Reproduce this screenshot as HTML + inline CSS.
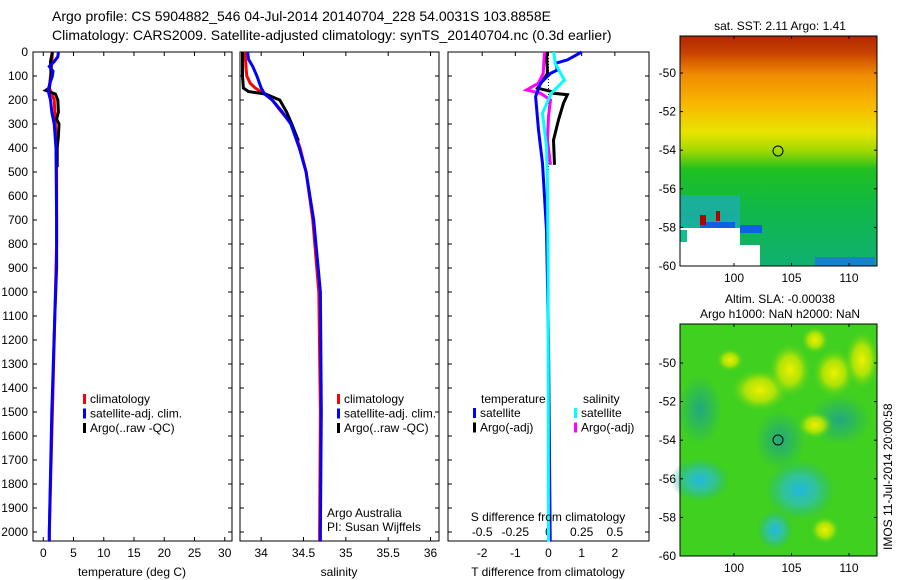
<!DOCTYPE html>
<html><head><meta charset="utf-8"><style>
body{margin:0;background:#fff}
svg{display:block;font-family:"Liberation Sans",sans-serif}
</style></head><body>
<svg id="c" width="900" height="580">
<defs>
<linearGradient id="sstg" x1="0" y1="0" x2="0" y2="1">
<stop offset="0" stop-color="#b02800"/><stop offset="0.07" stop-color="#c84000"/>
<stop offset="0.17" stop-color="#f08c00"/><stop offset="0.3" stop-color="#f8b800"/>
<stop offset="0.42" stop-color="#e8e400"/><stop offset="0.5" stop-color="#a0d800"/>
<stop offset="0.58" stop-color="#20c020"/><stop offset="0.75" stop-color="#10b848"/>
<stop offset="1" stop-color="#10b070"/></linearGradient>
<radialGradient id="yb"><stop offset="0" stop-color="#f0f000"/><stop offset="0.5" stop-color="#c8e800" stop-opacity="0.8"/><stop offset="1" stop-color="#40d020" stop-opacity="0"/></radialGradient>
<radialGradient id="cb"><stop offset="0" stop-color="#20b8e0"/><stop offset="0.5" stop-color="#30c0b0" stop-opacity="0.8"/><stop offset="1" stop-color="#20b880" stop-opacity="0"/></radialGradient>
<radialGradient id="tb"><stop offset="0" stop-color="#20a880"/><stop offset="1" stop-color="#20a880" stop-opacity="0"/></radialGradient>
</defs>
<g font-size="14">
<text x="52" y="21">Argo profile: CS 5904882_546 04-Jul-2014 20140704_228 54.0031S 103.8858E</text>
<text x="52" y="40">Climatology: CARS2009. Satellite-adjusted climatology: synTS_20140704.nc (0.3d earlier)</text>
</g>
<g id="panels"></g>
<!-- SST map -->
<g>
<text x="780" y="30" font-size="12" text-anchor="middle">sat. SST: 2.11  Argo: 1.41</text>
<rect x="680" y="36" width="197" height="230" fill="url(#sstg)"/>
<rect x="680" y="195" width="60" height="45" fill="#20a8d0" opacity="0.6"/>
<rect x="700" y="222" width="35" height="12" fill="#1060e0"/>
<rect x="740" y="225" width="22" height="8" fill="#1060e0"/>
<rect x="815" y="257" width="60" height="9" fill="#1878e0" opacity="0.8"/>
<rect x="680" y="228" width="60" height="38" fill="#fff"/>
<rect x="740" y="245" width="20" height="21" fill="#fff"/>
<rect x="680" y="230" width="7" height="12" fill="#10c090"/>
<rect x="700" y="215" width="6" height="10" fill="#b00000"/>
<rect x="716" y="211" width="4" height="10" fill="#b00000"/>
<rect x="680" y="36" width="197" height="230" fill="none" stroke="#000"/>
<circle cx="778" cy="151" r="5" fill="none" stroke="#000"/>
</g>
<!-- SLA map -->
<g>
<text x="780" y="303" font-size="12" text-anchor="middle">Altim. SLA: -0.00038</text>
<text x="780" y="318" font-size="12" text-anchor="middle">Argo h1000: NaN h2000: NaN</text>
<rect x="680" y="324" width="197" height="232" fill="#40d020"/>
<ellipse cx="700" cy="410" rx="22" ry="35" fill="url(#tb)"/>
<ellipse cx="780" cy="440" rx="25" ry="30" fill="url(#tb)"/>
<ellipse cx="840" cy="420" rx="30" ry="25" fill="url(#tb)"/>
<ellipse cx="760" cy="390" rx="30" ry="22" fill="url(#yb)"/>
<ellipse cx="790" cy="370" rx="22" ry="28" fill="url(#yb)"/>
<ellipse cx="834" cy="373" rx="22" ry="25" fill="url(#yb)"/>
<ellipse cx="815" cy="425" rx="18" ry="14" fill="url(#yb)"/>
<ellipse cx="862" cy="360" rx="18" ry="30" fill="url(#yb)"/>
<ellipse cx="815" cy="340" rx="14" ry="14" fill="url(#yb)"/>
<ellipse cx="730" cy="360" rx="14" ry="12" fill="url(#yb)"/>
<ellipse cx="700" cy="480" rx="30" ry="22" fill="url(#cb)"/>
<ellipse cx="800" cy="490" rx="35" ry="30" fill="url(#cb)"/>
<ellipse cx="775" cy="530" rx="18" ry="20" fill="url(#cb)"/>
<ellipse cx="825" cy="530" rx="15" ry="14" fill="url(#yb)"/>
<rect x="680" y="324" width="197" height="232" fill="none" stroke="#000"/>
<circle cx="778" cy="440" r="5" fill="none" stroke="#000"/>
<text transform="translate(892,550) rotate(-90)" font-size="12">IMOS 11-Jul-2014 20:00:58</text>
</g>
<g id="mapaxes"></g>
</svg>
<script>
const NS='http://www.w3.org/2000/svg';
const svg=document.getElementById('c');
const G=document.getElementById('panels');
function el(t,a,p){const e=document.createElementNS(NS,t);for(const k in a)e.setAttribute(k,a[k]);(p||G).appendChild(e);return e;}
function txt(x,y,s,o,p){const e=el('text',Object.assign({x:x,y:y,'font-size':12},o||{}),p);e.textContent=s;return e;}

// ---- data ----
const depthTicks=[0,100,200,300,400,500,600,700,800,900,1000,1100,1200,1300,1400,1500,1600,1700,1800,1900,2000];
const tempTicks=[0,5,10,15,20,25,30];
const salTicks=[34,34.5,35,35.5,36];
const salTickLabels=['34','34.5','35','35.5','36'];
const dTTicks=[-2,-1,0,1,2];
const dSTicks=[-0.5,-0.25,0,0.25,0.5];
const dSTickLabels=['-0.5','-0.25','0','0.25','0.5'];

const tClimDepth=[0,50,100,150,200,300,400,500,800,1100,1500,2000,2040];
const tClimVal=[1.5,1.4,1.2,1.0,1.8,2.0,2.1,2.2,2.2,1.9,1.5,1.0,1.0];
const tSatDepth=[0,20,40,60,80,100,130,160,200,250,300,400,700,900,1100,1500,2000,2040];
const tSatVal=[2.5,2.4,1.8,1.0,1.6,1.5,1.1,0.8,1.2,1.4,1.8,2.1,2.2,2.2,1.9,1.4,1.0,1.0];
const tArgoDepth=[0,40,100,150,160,175,200,250,280,300,350,400,480];
const tArgoVal=[1.5,1.2,1.3,1.0,0.4,2.0,2.4,2.5,2.2,2.6,2.5,2.3,2.3];

const sClimDepth=[0,60,100,130,150,180,200,250,300,400,500,700,1000,1500,2000,2040];
const sClimVal=[33.81,33.82,33.83,33.87,33.93,34.06,34.13,34.24,34.36,34.46,34.53,34.61,34.68,34.7,34.69,34.69];
const sSatDepth=[0,30,60,100,150,175,200,250,300,400,500,700,1000,1500,2000,2040];
const sSatVal=[33.84,33.85,33.9,33.95,34.0,34.04,34.13,34.25,34.35,34.45,34.53,34.62,34.7,34.71,34.7,34.7];
const sArgoDepth=[0,100,150,165,175,200,250,300,370];
const sArgoVal=[33.78,33.78,33.79,33.85,34.05,34.22,34.3,34.36,34.44];

const dTSatDepth=[0,33,47,75,89,130,186,325,464,603,742,1200,2040];
const dTSatVal=[1.0,0.57,0.21,0.27,0.06,-0.24,-0.39,-0.3,-0.18,-0.12,-0.06,0.0,0.05];
const dTArgoDepth=[0,89,151,165,172,178,214,283,367,470];
const dTArgoVal=[-0.06,-0.03,-0.33,0.1,0.15,0.57,0.45,0.3,0.15,0.18];
const dSSatDepth=[0,47,117,172,255,394,533,900,2040];
const dSSatVal=[0.04,0.05,0.12,0.02,-0.045,-0.015,-0.008,-0.003,0.0];
const dSArgoDepth=[0,89,130,158,172,200,269,367,470];
const dSArgoVal=[-0.03,-0.04,-0.075,-0.165,-0.06,0.015,0.0,-0.008,0.015];

// ---- axes ----
const Y0=52, PY=0.24, BOT=541;
const yD=d=>Y0+d*PY;
function panel(name,L,R,xmin,xmax){
  const g=el('g',{});
  
  
  el('rect',{x:L,y:Y0,width:R-L,height:BOT-Y0,fill:'none',stroke:'#000'},g);
  return {g:g,x:v=>L+(v-xmin)/(xmax-xmin)*(R-L),L:L,R:R};
}
function ticksY(p,labels){
  depthTicks.forEach(d=>{const y=yD(d);
    el('line',{x1:p.L,x2:p.L+4,y1:y,y2:y,stroke:'#000'},p.g);
    el('line',{x1:p.R,x2:p.R-4,y1:y,y2:y,stroke:'#000'},p.g);
    if(labels) txt(p.L-5,y+4,String(d),{'text-anchor':'end'},p.g);});
}
function ticksX(p,vals,labs,scale){
  vals.forEach((v,i)=>{const x=p.x(v*(scale||1));
    el('line',{x1:x,x2:x,y1:BOT,y2:BOT-4,stroke:'#000'},p.g);
    el('line',{x1:x,x2:x,y1:Y0,y2:Y0+4,stroke:'#000'},p.g);
    txt(x,BOT+16,labs?labs[i]:String(v),{'text-anchor':'middle'},p.g);});
}
function line(p,ds,vs,col,w,name){
  const pts=ds.map((d,i)=>p.x(vs[i]).toFixed(1)+','+yD(d).toFixed(1)).join(' ');
  const e=el('polyline',{points:pts,fill:'none',stroke:col,'stroke-width':w||3},p.g);
  
  
}
function legend(p,x,y,items){
  items.forEach((it,i)=>{el('rect',{x:x,y:y+i*14.5-9,width:3,height:10,fill:it[1]},p.g);
    txt(x+7,y+i*14.5,it[0],{},p.g);});
}

// temperature
const p1=panel('temperature-panel',33,232,-1.7,31.2);
ticksY(p1,true);ticksX(p1,tempTicks);
line(p1,tClimDepth,tClimVal,'#f00',3,'temp-climatology-line');
line(p1,tArgoDepth,tArgoVal,'#000',3,'temp-argo-line');
line(p1,tSatDepth,tSatVal,'#00f',3,'temp-satellite-line');
txt(132,576,'temperature (deg C)',{'text-anchor':'middle'},p1.g);
legend(p1,83,403,[['climatology','#f00'],['satellite-adj. clim.','#00f'],['Argo(..raw -QC)','#000']]);

// salinity
const p2=panel('salinity-panel',240,439,33.75,36.1);
ticksY(p2,false);ticksX(p2,salTicks,salTickLabels);
line(p2,sClimDepth,sClimVal,'#f00',3,'sal-climatology-line');
line(p2,sArgoDepth,sArgoVal,'#000',3,'sal-argo-line');
line(p2,sSatDepth,sSatVal,'#00f',3,'sal-satellite-line');
txt(339,576,'salinity',{'text-anchor':'middle'},p2.g);
legend(p2,337,403,[['climatology','#f00'],['satellite-adj. clim.','#00f'],['Argo(..raw -QC)','#000']]);
txt(327,517,'Argo Australia',{},p2.g);txt(327,531,'PI: Susan Wijffels',{},p2.g);

// difference
const p3=panel('difference-panel',448,649,-3.03,3.03);
ticksY(p3,false);
dTTicks.forEach(v=>{const x=p3.x(v);el('line',{x1:x,x2:x,y1:Y0,y2:Y0+4,stroke:'#000'},p3.g);txt(x,BOT+16,String(v),{'text-anchor':'middle'},p3.g);});
dSTicks.forEach((v,i)=>{txt(p3.x(v*4),BOT-5,dSTickLabels[i],{'text-anchor':'middle'},p3.g);});
el('line',{x1:p3.x(0),x2:p3.x(0),y1:Y0,y2:yD(500),stroke:'#000','stroke-dasharray':'1,2'},p3.g);
line(p3,dTArgoDepth,dTArgoVal,'#000',3,'dT-argo-line');
line(p3,dSArgoDepth,dSArgoVal.map(v=>v*4),'#f0f',3,'dS-argo-line');
line(p3,dTSatDepth,dTSatVal,'#00f',3,'dT-satellite-line');
line(p3,dSSatDepth,dSSatVal.map(v=>v*4),'#0ff',3,'dS-satellite-line');
txt(548,576,'T difference from climatology',{'text-anchor':'middle'},p3.g);
txt(548,521,'S difference from climatology',{'text-anchor':'middle'},p3.g);
txt(481,403,'temperature',{},p3.g);txt(583,403,'salinity',{},p3.g);
legend(p3,473,417,[['satellite','#00f'],['Argo(-adj)','#000']]);
legend(p3,574,417,[['satellite','#0ff'],['Argo(-adj)','#f0f']]);

// map axes
const MA=document.getElementById('mapaxes');
const latTicks=[-50,-52,-54,-56,-58,-60];
const lonTicks=[100,105,110];
[[73,266,-50,-60,36],[363,556,-50,-60,324]].forEach(m=>{
  const yl=v=>m[0]+(v-m[2])/(m[3]-m[2])*(m[1]-m[0]);
  latTicks.forEach(v=>{const y=yl(v);
    el('line',{x1:680,x2:683,y1:y,y2:y,stroke:'#000'},MA);el('line',{x1:877,x2:874,y1:y,y2:y,stroke:'#000'},MA);
    txt(676,y+4,String(v),{'text-anchor':'end'},MA);});
  lonTicks.forEach(v=>{const x=734+(v-100)*11.5;
    el('line',{x1:x,x2:x,y1:m[1],y2:m[1]-3,stroke:'#000'},MA);el('line',{x1:x,x2:x,y1:m[4],y2:m[4]+3,stroke:'#000'},MA);
    txt(x,m[1]+16,String(v),{'text-anchor':'middle'},MA);});
});
</script>
</body></html>
